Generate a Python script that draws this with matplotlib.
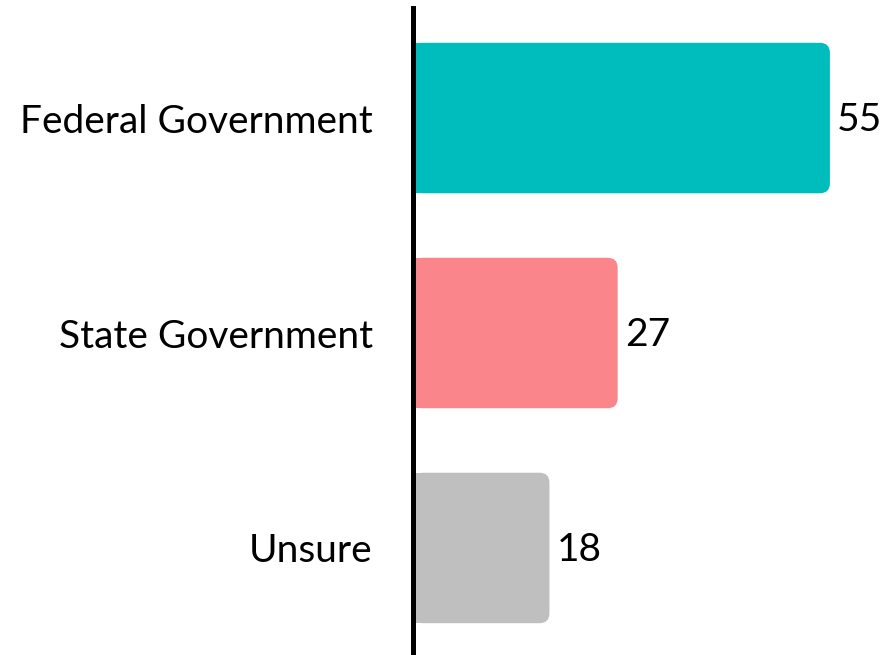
import matplotlib
matplotlib.use("Agg")
import matplotlib.pyplot as plt
from matplotlib.patches import FancyBboxPatch, Rectangle

categories = ["Federal Government", "State Government", "Unsure"]
values = [55, 27, 18]
colors = ["#00BDBD", "#FA868C", "#BFBFBF"]

plt.rcParams["font.family"] = ["Lato", "DejaVu Sans"]

W, H = 884, 655
fig = plt.figure(figsize=(W / 100, H / 100), dpi=100)
ax_left = 413
ax = fig.add_axes([ax_left / W, 0, 1 - ax_left / W, (H - 8) / H])

px_per_unit = 7.58
xmax = (W - ax_left) / px_per_unit
ax.set_xlim(0, xmax)
ax.set_ylim(2.498, -0.512)

bar_h = 0.70
radius_px = 10
r = radius_px / px_per_unit
aspect = (1 / 215) / (1 / px_per_unit)

ypos = list(range(len(categories)))
for y, v, c in zip(ypos, values, colors):
    # rounded box for the right end, square rectangle for the left end
    ax.add_patch(FancyBboxPatch((0, y - bar_h / 2), v, bar_h,
                                boxstyle=f"round,pad=0,rounding_size={r}",
                                mutation_aspect=aspect, fc=c, ec="none"))
    ax.add_patch(Rectangle((0, y - bar_h / 2), 2 * r, bar_h, fc=c, ec="none"))
    ax.text(v + 7 / px_per_unit, y + 0.01, str(v), va="center", ha="left",
            fontsize=28)

ax.set_yticks(ypos)
ax.set_yticklabels(categories, fontsize=28)
ax.tick_params(axis="y", length=0, pad=29)
ax.set_xticks([])
for side in ["top", "right", "bottom"]:
    ax.spines[side].set_visible(False)
ax.spines["left"].set_linewidth(3.6)
ax.spines["left"].set_color("black")
ax.spines["left"].set_zorder(5)

fig.savefig("out.png", dpi=100)
